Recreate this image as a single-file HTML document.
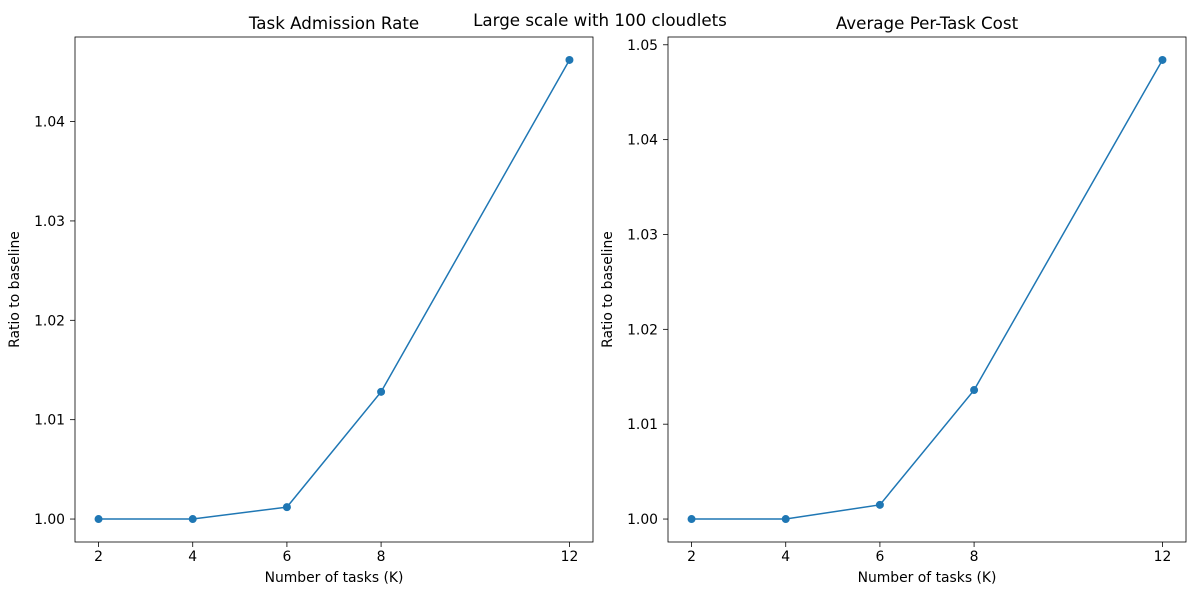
<!DOCTYPE html>
<html><head><meta charset="utf-8"><style>
html,body{margin:0;padding:0;background:#fff;}
svg{display:block;font-family:"DejaVu Sans","Liberation Sans",sans-serif;}
</style></head><body>
<svg id="fig" width="1200" height="600" viewBox="0 0 1200 600">
<text x="600" y="26" text-anchor="middle" font-size="16.7" fill="#000">Large scale with 100 cloudlets</text>
</svg>
<script>
const categories = [2, 4, 6, 8, 12];
const admissionValues = [1.0, 1.0, 1.0012, 1.0128, 1.0462];
const costValues = [1.0, 1.0, 1.0015, 1.0136, 1.0484];
const admissionTicks = [1.00, 1.01, 1.02, 1.03, 1.04];
const costTicks = [1.00, 1.01, 1.02, 1.03, 1.04, 1.05];

const NS = "http://www.w3.org/2000/svg";
const fig = document.getElementById('fig');
function mk(tag, attrs, parent) {
  const e = document.createElementNS(NS, tag);
  for (const k in attrs) e.setAttribute(k, attrs[k]);
  parent.appendChild(e);
  return e;
}
function panel(prefix, x0, x1, title, values, ticks) {
  const y0 = 37, y1 = 542;
  const g = mk('g', {}, fig);
  
  
  const xmin = Math.min(...categories), xmax = Math.max(...categories);
  const xpad = (xmax - xmin) * 0.05;
  const vmin = Math.min(...values), vmax = Math.max(...values);
  const vpad = (vmax - vmin) * 0.05;
  const xs = v => x0 + (v - (xmin - xpad)) / ((xmax + xpad) - (xmin - xpad)) * (x1 - x0);
  const ys = v => y1 - (v - (vmin - vpad)) / ((vmax + vpad) - (vmin - vpad)) * (y1 - y0);
  const frame = mk('rect', {x: x0, y: y0, width: x1 - x0, height: y1 - y0, fill: 'none', stroke: '#000', 'stroke-width': 0.8}, g);
  
  
  const t = mk('text', {x: (x0 + x1) / 2, y: 29, 'text-anchor': 'middle', 'font-size': 16.7}, g);
  t.textContent = title;
  
  
  categories.forEach(c => {
    const x = xs(c);
    mk('line', {x1: x, x2: x, y1: y1, y2: y1 + 5, stroke: '#000', 'stroke-width': 0.8}, g);
    const l = mk('text', {x: x, y: y1 + 19, 'text-anchor': 'middle', 'font-size': 13.9}, g);
    l.textContent = c;
    
    
  });
  ticks.forEach(v => {
    const y = ys(v);
    mk('line', {x1: x0 - 5, x2: x0, y1: y, y2: y, stroke: '#000', 'stroke-width': 0.8}, g);
    const l = mk('text', {x: x0 - 10, y: y + 5, 'text-anchor': 'end', 'font-size': 13.9}, g);
    l.textContent = v.toFixed(2);
    
    
  });
  const xl = mk('text', {x: (x0 + x1) / 2, y: 582, 'text-anchor': 'middle', 'font-size': 13.9}, g);
  xl.textContent = 'Number of tasks (K)';
  
  
  const yx = x0 - 56, yy = (y0 + y1) / 2;
  const yl = mk('text', {x: yx, y: yy, 'text-anchor': 'middle', 'font-size': 13.9, transform: `rotate(-90 ${yx} ${yy})`}, g);
  yl.textContent = 'Ratio to baseline';
  
  
  const pts = categories.map((c, i) => xs(c) + ',' + ys(values[i])).join(' ');
  const line = mk('polyline', {points: pts, fill: 'none', stroke: '#1f77b4', 'stroke-width': 1.5}, g);
  
  
  categories.forEach((c, i) => {
    const p = mk('circle', {cx: xs(c), cy: ys(values[i]), r: 4, fill: '#1f77b4'}, g);
    
    
  });
}
panel('admission', 75, 593, 'Task Admission Rate', admissionValues, admissionTicks);
panel('cost', 668, 1186, 'Average Per-Task Cost', costValues, costTicks);
</script>
</body></html>
